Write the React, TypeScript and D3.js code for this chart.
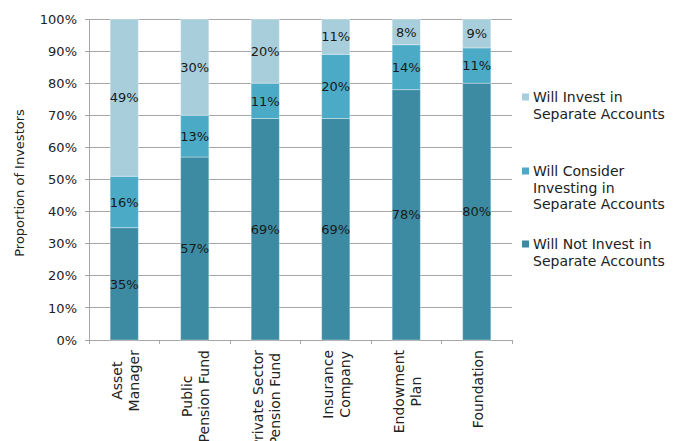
import React, { useEffect, useRef } from "react";
import * as d3 from "d3";

const categories = [
  ["Asset", "Manager"],
  ["Public", "Pension Fund"],
  ["Private Sector", "Pension Fund"],
  ["Insurance", "Company"],
  ["Endowment", "Plan"],
  ["Foundation"],
];
const willNot = [35, 57, 69, 69, 78, 80];
const willConsider = [16, 13, 11, 20, 14, 11];
const willInvest = [49, 30, 20, 11, 8, 9];
const seriesNames = [
  ["Will Invest in", "Separate Accounts"],
  ["Will Consider", "Investing in", "Separate Accounts"],
  ["Will Not Invest in", "Separate Accounts"],
];
const yTicks = [0, 10, 20, 30, 40, 50, 60, 70, 80, 90, 100];
const yTitle = "Proportion of Investors";

const W = 680;
const H = 441;
const FONT = "'DejaVu Sans', sans-serif";
const colors = ["#3c8ba2", "#4baac5", "#a8cedc"]; // not, consider, invest

export default function App() {
  const ref = useRef<SVGSVGElement>(null);
  useEffect(() => {
    const svg = d3.select(ref.current);
    svg.selectAll("*").remove();
    const left = 89, right = 512, top = 19, bottom = 340;
    const keys = categories.map((_, i) => String(i));
    const x = d3.scaleBand().domain(keys).range([left, right]).paddingInner(0.6).paddingOuter(0.3);
    const xb = d3.scaleBand().domain(keys).range([left, right]);
    const y = d3.scaleLinear().domain([0, 100]).range([bottom, top]);

    // grid
    const grid = svg.append("g");
    yTicks.forEach((t) => {
      grid.append("line").attr("x1", left - 4).attr("x2", right).attr("y1", y(t)).attr("y2", y(t))
        .attr("stroke", "#a6a6a6").attr("stroke-width", 1).attr("shape-rendering", "crispEdges");
      grid.append("text").attr("x", 77).attr("y", y(t)).attr("dy", "0.36em").attr("text-anchor", "end")
        .attr("font-family", FONT).attr("font-size", 13).attr("fill", "#222").text(`${t}%`);
    });
    // axes
    svg.append("line").attr("x1", left).attr("x2", left).attr("y1", top).attr("y2", bottom)
      .attr("stroke", "#a6a6a6").attr("shape-rendering", "crispEdges");
    svg.append("line").attr("x1", left).attr("x2", right).attr("y1", bottom).attr("y2", bottom)
      .attr("stroke", "#a6a6a6").attr("shape-rendering", "crispEdges");
    const bounds = keys.map((k) => xb(k)!).concat([right]);
    bounds.forEach((bx) => {
      svg.append("line").attr("x1", bx).attr("x2", bx).attr("y1", bottom).attr("y2", bottom + 4)
        .attr("stroke", "#a6a6a6").attr("shape-rendering", "crispEdges");
    });

    // stacked bars
    const data = categories.map((_, i) => ({ key: String(i), a: willNot[i], b: willConsider[i], c: willInvest[i] }));
    const stack = d3.stack<any>().keys(["a", "b", "c"])(data);
    stack.forEach((layer, li) => {
      const g = svg.append("g");
      layer.forEach((d: any) => {
        const k = d.data.key;
        g.append("rect").attr("x", x(k)!).attr("width", x.bandwidth())
          .attr("y", y(d[1])).attr("height", y(d[0]) - y(d[1]))
          .attr("fill", colors[li]).attr("stroke", "rgba(255,255,255,0.35)").attr("stroke-width", 1);
      });
    });
    stack.forEach((layer) => {
      layer.forEach((d: any) => {
        const k = d.data.key;
        svg.append("text").attr("x", x(k)! + x.bandwidth() / 2).attr("y", y((d[0] + d[1]) / 2))
          .attr("dy", "0.36em").attr("text-anchor", "middle").attr("font-family", FONT)
          .attr("font-size", 13).attr("fill", "#1a1a1a").text(`${d[1] - d[0]}%`);
      });
    });

    // category labels
    categories.forEach((lines, i) => {
      const cx = xb(String(i))! + xb.bandwidth() / 2 + 1;
      const g = svg.append("g").attr("transform", `translate(${cx},350) rotate(-90)`);
      const texts = lines.map((ln, j) =>
        g.append("text").attr("y", (j - (lines.length - 1) / 2) * 17 + 5)
          .attr("text-anchor", "middle").attr("font-family", FONT).attr("font-size", 14)
          .attr("fill", "#222").text(ln)
      );
      const maxLen = d3.max(texts, (t) => (t.node() as SVGTextElement).getComputedTextLength()) || 0;
      texts.forEach((t) => t.attr("x", -maxLen / 2));
    });

    // y title
    svg.append("text").attr("transform", `translate(19,183) rotate(-90)`).attr("dy", "0.36em")
      .attr("text-anchor", "middle").attr("font-family", FONT).attr("font-size", 13).attr("fill", "#222")
      .text(yTitle);

    // legend
    const legendY = [97, 171, 244];
    const legendColors = [colors[2], colors[1], colors[0]];
    seriesNames.forEach((lines, i) => {
      svg.append("rect").attr("x", 522).attr("y", legendY[i] - 3.5).attr("width", 7).attr("height", 7)
        .attr("fill", legendColors[i]);
      lines.forEach((ln, j) => {
        svg.append("text").attr("x", 533).attr("y", legendY[i] + j * 16.7).attr("dy", "0.36em")
          .attr("font-family", FONT).attr("font-size", 14).attr("fill", "#222").text(ln);
      });
    });
  }, []);
  return (
    <svg ref={ref} width={W} height={H} style={{ position: "absolute", left: 0, top: 0, background: "#fff" }} />
  );
}
